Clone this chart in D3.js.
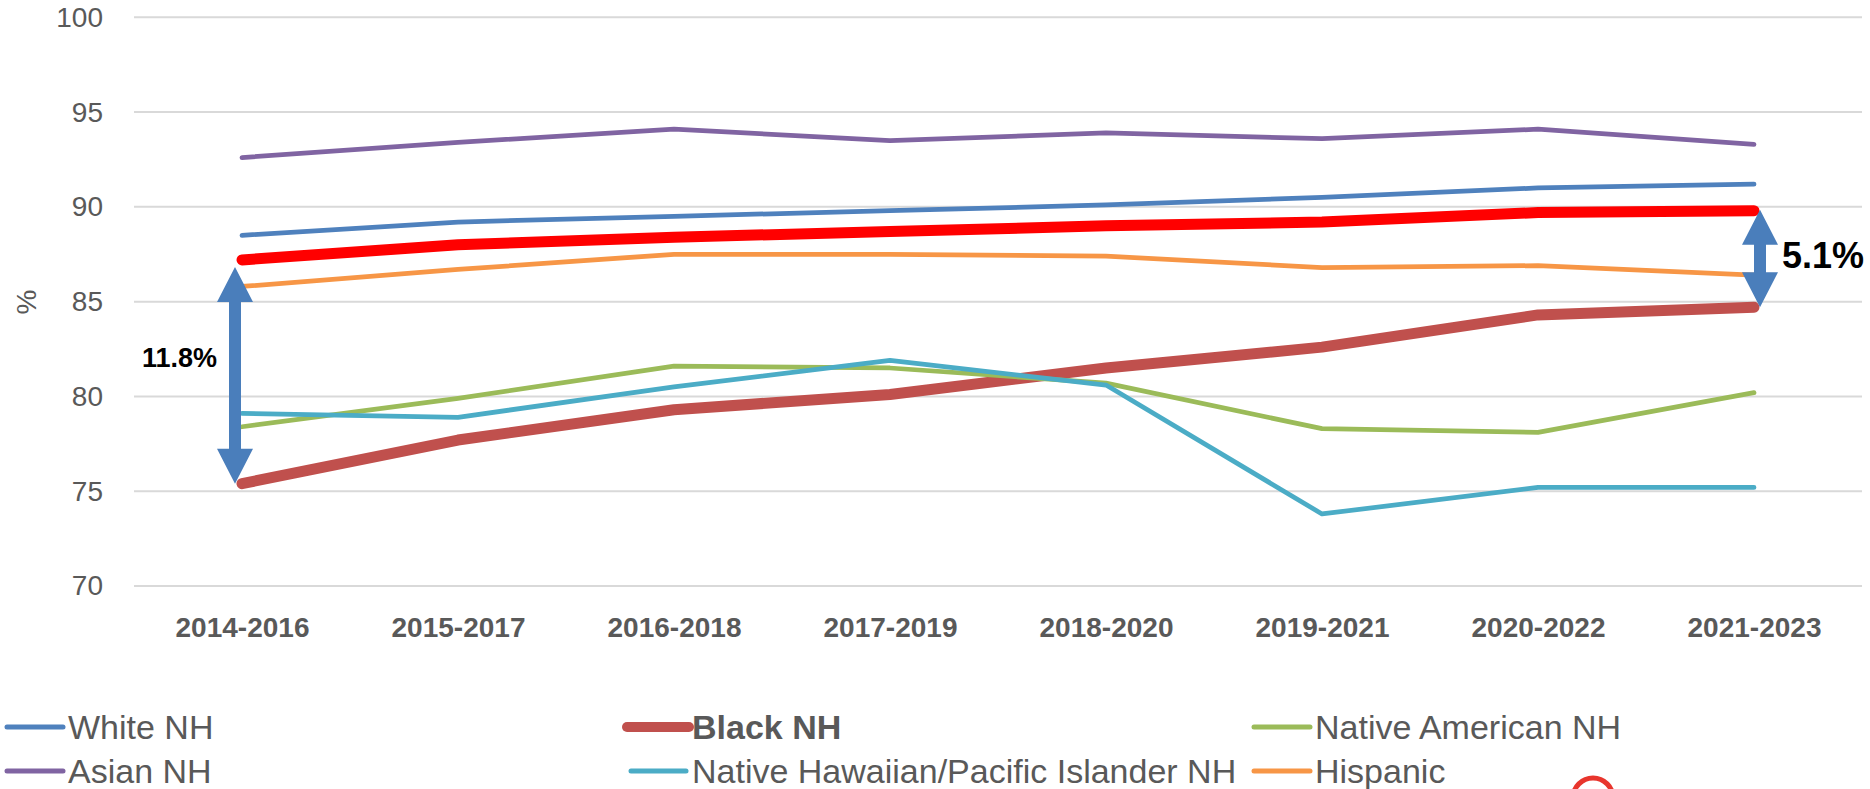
<!DOCTYPE html>
<html>
<head>
<meta charset="utf-8">
<script src="https://cdn.jsdelivr.net/npm/d3@7"></script>
<style>
  html, body { margin: 0; padding: 0; background: #fff; }
  svg { display: block; }
  text { font-family: "Liberation Sans", Arial, sans-serif; }
</style>
</head>
<body>
<svg id="chart" width="1870" height="789"></svg>
<script>
const categories = ["2014-2016","2015-2017","2016-2018","2017-2019","2018-2020","2019-2021","2020-2022","2021-2023"];
const yTicks = [70, 75, 80, 85, 90, 95, 100];

const whiteNH    = [88.5, 89.2, 89.5, 89.8, 90.1, 90.5, 91.0, 91.2];
const blackNH    = [75.4, 77.7, 79.3, 80.1, 81.5, 82.6, 84.3, 84.7];
const nativeAmNH = [78.4, 79.9, 81.6, 81.5, 80.7, 78.3, 78.1, 80.2];
const asianNH    = [92.6, 93.4, 94.1, 93.5, 93.9, 93.6, 94.1, 93.3];
const nhpiNH     = [79.1, 78.9, 80.5, 81.9, 80.6, 73.8, 75.2, 75.2];
const hispanic   = [85.8, 86.7, 87.5, 87.5, 87.4, 86.8, 86.9, 86.4];
const highlight  = [87.2, 88.0, 88.4, 88.7, 89.0, 89.2, 89.7, 89.8];

const gapLabels = ["11.8%", "5.1%"];

const series = [
  {name: "White NH", values: whiteNH, color: "#4F81BD", width: 4.75, bold: false},
  {name: "Black NH", values: blackNH, color: "#C0504D", width: 11, bold: true},
  {name: "Native American NH", values: nativeAmNH, color: "#9BBB59", width: 4.75, bold: false},
  {name: "Asian NH", values: asianNH, color: "#8064A2", width: 4.75, bold: false},
  {name: "Native Hawaiian/Pacific Islander NH", values: nhpiNH, color: "#4BACC6", width: 4.75, bold: false},
  {name: "Hispanic", values: hispanic, color: "#F79646", width: 4.75, bold: false}
];

const svg = d3.select("#chart");
const plotL = 134, plotR = 1862, plotT = 17.3, plotB = 586;

const x = d3.scalePoint().domain(categories).range([plotL, plotR]).padding(0.5);
const y = d3.scaleLinear().domain([70, 100]).range([plotB, plotT]);

// gridlines
svg.append("g").selectAll("line").data(yTicks).join("line")
  .attr("x1", plotL).attr("x2", plotR)
  .attr("y1", d => y(d)).attr("y2", d => y(d))
  .attr("stroke", "#D9D9D9").attr("stroke-width", 2);

// y axis labels
const yAxis = d3.axisLeft(y).tickValues(yTicks).tickSize(0).tickPadding(0);
const yg = svg.append("g").attr("transform", "translate(103,0)").call(yAxis);
yg.select(".domain").remove();
yg.selectAll("text").attr("font-size", 28).attr("fill", "#595959")
  .attr("font-family", "Liberation Sans, Arial, sans-serif");

// y axis title
svg.append("text").attr("transform", "translate(36,302) rotate(-90)")
  .attr("text-anchor", "middle").attr("font-size", 28).attr("fill", "#595959").text("%");

// x axis labels
const xAxis = d3.axisBottom(x).tickSize(0).tickPadding(0);
const xg = svg.append("g").attr("transform", "translate(0,617)").call(xAxis);
xg.select(".domain").remove();
xg.selectAll("text").attr("font-size", 28).attr("font-weight", "bold").attr("fill", "#595959")
  .attr("font-family", "Liberation Sans, Arial, sans-serif").attr("dy", "0.71em");

const line = d3.line().x((d, i) => x(categories[i])).y(d => y(d));

// lines
series.forEach(s => {
  svg.append("path").datum(s.values).attr("d", line)
    .attr("fill", "none").attr("stroke", s.color).attr("stroke-width", s.width)
    .attr("stroke-linecap", "round").attr("stroke-linejoin", "round");
});
svg.append("path").datum(highlight).attr("d", line)
  .attr("fill", "none").attr("stroke", "#FF0000").attr("stroke-width", 11)
  .attr("stroke-linecap", "round").attr("stroke-linejoin", "round");

// double arrows
function dblArrow(cx, yTop, yBot) {
  const hl = 35, hw = 18, sw = 6;
  const pts = [
    [cx, yTop], [cx + hw, yTop + hl], [cx + sw, yTop + hl], [cx + sw, yBot - hl],
    [cx + hw, yBot - hl], [cx, yBot], [cx - hw, yBot - hl], [cx - sw, yBot - hl],
    [cx - sw, yTop + hl], [cx - hw, yTop + hl]
  ];
  svg.append("path").attr("d", "M" + pts.map(p => p.join(",")).join("L") + "Z")
    .attr("fill", "#4A7EBB");
}
const n = categories.length - 1;
dblArrow(x(categories[0]) - 7, y(highlight[0]) + 7, y(blackNH[0]));
dblArrow(x(categories[n]) + 6, y(highlight[n]) - 1, y(blackNH[n]));

svg.append("text").attr("x", 142).attr("y", 367).attr("font-size", 27).attr("font-weight", "bold")
  .attr("fill", "#000").text(gapLabels[0]);
svg.append("text").attr("x", 1782).attr("y", 268).attr("font-size", 36).attr("font-weight", "bold")
  .attr("fill", "#000").text(gapLabels[1]);

// legend
const legendPos = [
  {lx1: 7, lx2: 63, tx: 68, ly: 727, ty: 739},
  {lx1: 627, lx2: 689, tx: 692, ly: 727, ty: 739},
  {lx1: 1254, lx2: 1310, tx: 1315, ly: 727, ty: 739},
  {lx1: 7, lx2: 63, tx: 68, ly: 771, ty: 783},
  {lx1: 631, lx2: 686, tx: 692, ly: 771, ty: 783},
  {lx1: 1254, lx2: 1310, tx: 1315, ly: 771, ty: 783}
];
series.forEach((s, i) => {
  const p = legendPos[i];
  svg.append("line").attr("x1", p.lx1).attr("x2", p.lx2).attr("y1", p.ly).attr("y2", p.ly)
    .attr("stroke", s.color).attr("stroke-width", s.bold ? 10 : 5).attr("stroke-linecap", "round");
  svg.append("text").attr("x", p.tx).attr("y", p.ty).attr("font-size", 34)
    .attr("font-weight", s.bold ? "bold" : "normal").attr("fill", "#595959").text(s.name);
});

// stray red circle at bottom
svg.append("circle").attr("cx", 1593).attr("cy", 798).attr("r", 20)
  .attr("fill", "none").attr("stroke", "#E8352D").attr("stroke-width", 5);
</script>
</body>
</html>
